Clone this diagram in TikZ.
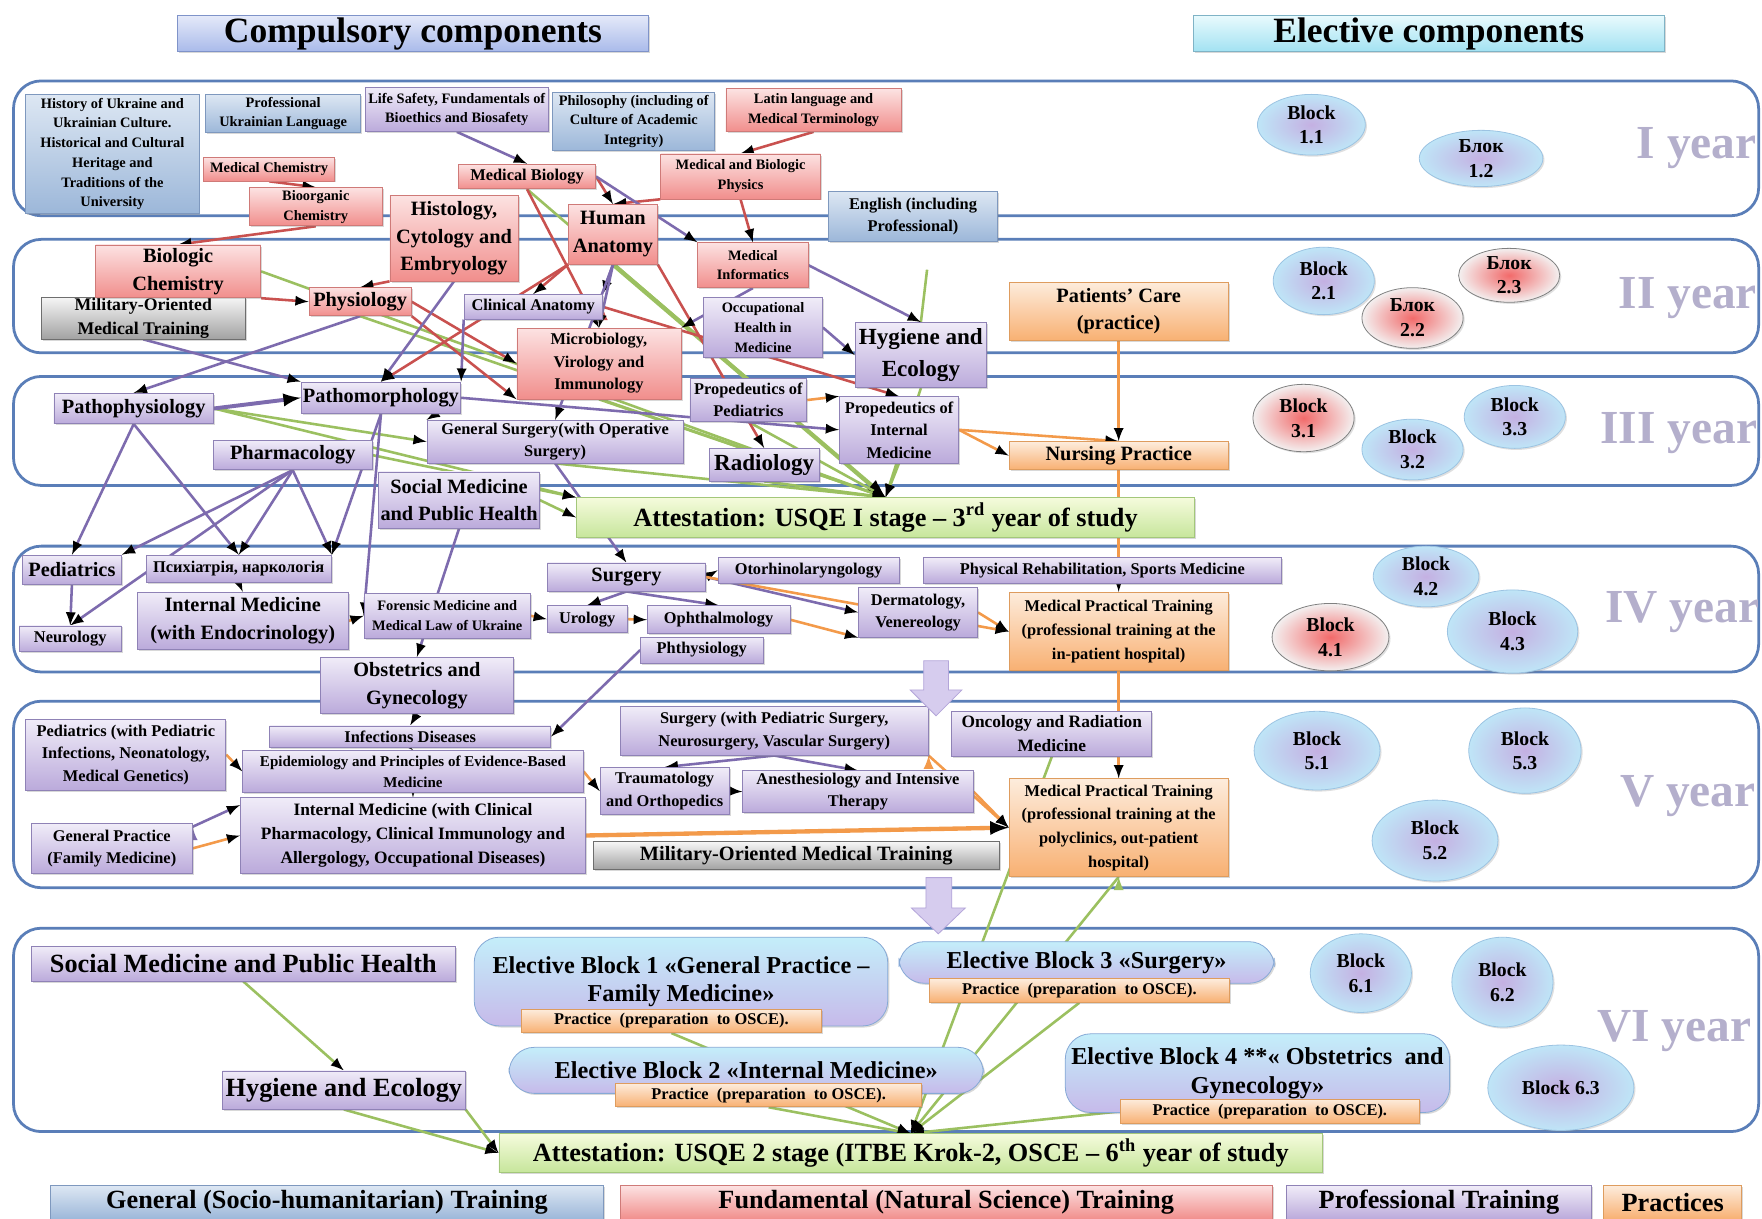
\documentclass[tikz,border=0pt]{standalone}
\usepackage{fontspec}
\setmainfont{Liberation Serif}
\usepackage{tikz}
\usetikzlibrary{positioning,calc,shadows,shapes.geometric}

\definecolor{genTop}{HTML}{DDE7F3}
\definecolor{genBot}{HTML}{9CB7D9}
\definecolor{genLine}{HTML}{7E98BE}
\definecolor{funTop}{HTML}{FCE2E2}
\definecolor{funBot}{HTML}{F18E8C}
\definecolor{funLine}{HTML}{CF7A78}
\definecolor{proTop}{HTML}{F0ECF8}
\definecolor{proBot}{HTML}{BBAADB}
\definecolor{proLine}{HTML}{8F82B6}
\definecolor{praTop}{HTML}{FDECDC}
\definecolor{praBot}{HTML}{F8B072}
\definecolor{praLine}{HTML}{DE9C5E}
\definecolor{milTop}{HTML}{F6F6F6}
\definecolor{milBot}{HTML}{A2A2A2}
\definecolor{milLine}{HTML}{6E6E6E}
\definecolor{attTop}{HTML}{F5FBDC}
\definecolor{attBot}{HTML}{C7E69C}
\definecolor{attLine}{HTML}{A3C77A}
\definecolor{eleTop}{HTML}{C4EEFA}
\definecolor{eleBot}{HTML}{C6BAEA}
\definecolor{eleLine}{HTML}{86A9D6}
\definecolor{hdcTop}{HTML}{E4E9F9}
\definecolor{hdcBot}{HTML}{A9BAEA}
\definecolor{hdcLine}{HTML}{7F93C9}
\definecolor{hdeTop}{HTML}{E8FAFD}
\definecolor{hdeBot}{HTML}{A2E2F2}
\definecolor{hdeLine}{HTML}{7FB3C6}
\definecolor{bandLine}{HTML}{5A7EB8}
\definecolor{yearGray}{HTML}{B4AFCC}
\definecolor{blkIn}{HTML}{C4B0E2}
\definecolor{blkOut}{HTML}{BFE5F7}
\definecolor{blkLine}{HTML}{9CC3E2}
\definecolor{redIn}{HTML}{F26A6A}
\definecolor{redOut}{HTML}{F3F0F0}
\definecolor{arrFill}{HTML}{D6CCEE}
\definecolor{arrLine}{HTML}{B3A5D9}
\definecolor{lnPur}{HTML}{7D6BAE}
\definecolor{lnRed}{HTML}{C9514F}
\definecolor{lnGrn}{HTML}{9BC060}
\definecolor{lnOra}{HTML}{F39A4A}

\pgfdeclarelayer{bands}
\pgfdeclarelayer{links}
\pgfsetlayers{bands,links,main}

\begin{document}
\begin{tikzpicture}[x=0.02cm, y=-0.02cm, wh/.style 2 args={minimum width=#1*0.02cm, minimum height=#2*0.02cm}, cbox/.style={draw=#1Line, top color=#1Top, bottom color=#1Bot, align=center, inner sep=0.5pt, text=black, drop shadow={shadow xshift=0.8pt, shadow yshift=-0.8pt, opacity=0.3}}, gen/.style={cbox=gen}, fund/.style={cbox=fun}, prof/.style={cbox=pro}, prac/.style={cbox=pra}, mil/.style={cbox=mil}, att/.style={cbox=att}, hdrC/.style={cbox=hdc}, hdrE/.style={cbox=hde}, elec/.style={cbox=ele, rounded corners=0.45cm}, fS/.style={font=\fontsize{7.3}{10}\selectfont\bfseries}, fM/.style={font=\fontsize{8.3}{11.4}\selectfont\bfseries}, fL/.style={font=\fontsize{10.3}{14}\selectfont\bfseries}, fX/.style={font=\fontsize{13.3}{16.5}\selectfont\bfseries}, fE/.style={font=\fontsize{12.3}{14.5}\selectfont\bfseries}, blkB/.style={ellipse, draw=blkLine, inner color=blkIn, outer color=blkOut, align=center, inner sep=0pt, font=\fontsize{10}{12.5}\selectfont\bfseries, drop shadow={shadow xshift=0.8pt, shadow yshift=-0.8pt, opacity=0.25}}, blkR/.style={blkB, draw=gray, inner color=redIn, outer color=redOut}, yr/.style={text=yearGray, font=\fontsize{24}{26}\selectfont\bfseries}, band/.style={draw=bandLine, line width=1.4pt, rounded corners=14pt}, pl/.style={draw=lnPur, line width=1.3pt, -latex}, rl/.style={draw=lnRed, line width=1.3pt, -latex}, gl/.style={draw=lnGrn, line width=1.3pt, -latex}, ol/.style={draw=lnOra, line width=1.3pt, -latex}]
\useasboundingbox (0,0) rectangle (1568,1084);

\node[hdrC, wh={419}{32}, font=\fontsize{18}{20}\selectfont\bfseries] (compul) at (367.5,30) {Compulsory components};
\node[hdrE, wh={419}{32}, font=\fontsize{18}{20}\selectfont\bfseries] (electc) at (1271.5,30) {Elective components};

% I year
\node[gen, fS, wh={154}{106}] (hist) at (100,137) {History of Ukraine and\\Ukrainian Culture.\\Historical and Cultural\\Heritage and\\Traditions of the\\University};
\node[gen, fS, wh={138}{34}] (profukr) at (252,101) {Professional\\Ukrainian Language};
\node[prof, fS, wh={163}{39}] (lifesaf) at (406.5,97.5) {Life Safety, Fundamentals of\\Bioethics and Biosafety};
\node[gen, fS, wh={144}{52}] (philos) at (564,108) {Philosophy (including of\\Culture of Academic\\Integrity)};
\node[fund, fS, wh={156}{38}] (latin) at (724,98) {Latin language and\\Medical Terminology};
\node[fund, fS, wh={117}{21}] (medchem) at (239.5,150.5) {Medical Chemistry};
\node[fund, fS, wh={118}{34}] (bioorg) at (281,184) {Bioorganic\\Chemistry};
\node[fund, fM, wh={122}{22}] (medbio) at (469,157) {Medical Biology};
\node[fund, fS, wh={142}{40}] (medphys) at (659,157) {Medical and Biologic\\Physics};
\node[gen, fM, wh={151}{45}] (english) at (812.5,192.5) {English (including\\Professional)};
\node[fund, fL, wh={114}{76}] (histol) at (404,212) {Histology,\\Cytology and\\Embryology};
\node[fund, fL, wh={79}{53}] (anatomy) at (545.5,208.5) {Human\\Anatomy};

% II year
\node[mil, fM, wh={181}{36}, font=\fontsize{9}{12}\selectfont\bfseries] (milit1) at (127.5,283) {Military-Oriented\\Medical Training};
\node[fund, fL, wh={147}{47}] (biochem) at (158.5,241.5) {Biologic\\Chemistry};
\node[fund, fL, wh={91}{25}] (physiol) at (320.5,268.5) {Physiology};
\node[prof, fM, wh={123}{22}] (clinanat) at (474.5,273) {Clinical Anatomy};
\node[fund, fS, wh={98}{40}] (medinf) at (670,236) {Medical\\Informatics};
\node[prof, fS, wh={106}{53}] (occup) at (679,291.5) {Occupational\\Health in\\Medicine};
\node[fund, fM, wh={146}{63}] (microbio) at (533,323.5) {Microbiology,\\Virology and\\Immunology};
\node[prof, wh={117}{58}, font=\fontsize{11.7}{16}\selectfont\bfseries] (hygiene) at (819.5,316) {Hygiene and\\Ecology};
\node[prac, fL, wh={195}{52}] (patients) at (995.5,277) {Patients’ Care\\(practice)};

% III year
\node[prof, fL, wh={142}{27}] (pathophys) at (119,363.5) {Pathophysiology};
\node[prof, fL, wh={142}{28}] (pathomorph) at (339,354) {Pathomorphology};
\node[prof, fL, wh={141}{26}] (pharma) at (260.5,405) {Pharmacology};
\node[prof, fM, wh={228}{38}] (gensurg) at (494,393) {General Surgery(with Operative\\Surgery)};
\node[prof, fM, wh={104}{38}] (propped) at (666,356) {Propedeutics of\\Pediatrics};
\node[prof, fM, wh={106}{59}] (propint) at (800,382.5) {Propedeutics of\\Internal\\Medicine};
\node[prof, wh={98}{29}, font=\fontsize{11.7}{14}\selectfont\bfseries] (radiol) at (680,413.5) {Radiology};
\node[prac, fL, wh={195}{25}] (nursing) at (995.5,405.5) {Nursing Practice};
\node[prof, fL, wh={143}{50}] (socmed) at (408.5,445) {Social Medicine\\and Public Health};
\node[att, fX, wh={550}{35}] (attest1) at (788,460.5) {Attestation: USQE I stage – 3\textsuperscript{rd} year of study};
\coordinate (gstub) at (825,240);

% IV year
\node[prof, fL, wh={88}{26}] (pediat) at (64,507) {Pediatrics};
\node[prof, fM, wh={165}{24}] (psych) at (212.5,506) {Психіатрія, наркологія};
\node[prof, fM, wh={91}{23}] (neurol) at (62.5,568.5) {Neurology};
\node[prof, fL, wh={188}{51}] (intmed) at (216,552.5) {Internal Medicine\\(with Endocrinology)};
\node[prof, fS, wh={148}{40}] (forens) at (398,548) {Forensic Medicine and\\Medical Law of Ukraine};
\node[prof, fL, wh={141}{25}] (surgery) at (557.5,513.5) {Surgery};
\node[prof, fM, wh={161}{23}] (ent) at (719.5,507.5) {Otorhinolaryngology};
\node[prof, fM, wh={318}{23}] (physreh) at (981,507.5) {Physical Rehabilitation, Sports Medicine};
\node[prof, fM, wh={71}{24}] (urol) at (522.5,551) {Urology};
\node[prof, fM, wh={127}{25}] (ophth) at (639.5,551.5) {Ophthalmology};
\node[prof, fM, wh={106}{44}] (derm) at (817,545) {Dermatology,\\Venereology};
\node[prof, fM, wh={109}{23}] (phthis) at (624.5,578.5) {Phthysiology};
\node[prac, fM, wh={195}{70}, font=\fontsize{8.3}{12}\selectfont\bfseries] (medpr1) at (995.5,562) {Medical Practical Training\\(professional training at the\\in-patient hospital)};
\node[prof, fL, wh={172}{50}] (obstet) at (371,610) {Obstetrics and\\Gynecology};

% V year
\node[prof, fM, wh={178}{63}] (pedsV) at (112,671.5) {Pediatrics (with Pediatric\\Infections, Neonatology,\\Medical Genetics)};
\node[prof, fM, wh={250}{19}] (infect) at (365,655.5) {Infections Diseases};
\node[prof, wh={303}{37}, font=\fontsize{7.6}{10.5}\selectfont\bfseries] (epid) at (367.5,686.5) {Epidemiology and Principles of Evidence-Based\\Medicine};
\node[prof, fM, wh={274}{43}] (surgV) at (689,650.5) {Surgery (with Pediatric Surgery,\\Neurosurgery, Vascular Surgery)};
\node[prof, wh={178}{40}, font=\fontsize{8.8}{12}\selectfont\bfseries] (oncol) at (936,653) {Oncology and Radiation\\Medicine};
\node[prof, fM, wh={115}{42}] (trauma) at (591.5,704) {Traumatology\\and Orthopedics};
\node[prof, fM, wh={205}{37}] (anest) at (763.5,704.5) {Anesthesiology and Intensive\\Therapy};
\node[prof, fM, wh={143}{44}] (genpr) at (99.5,755) {General Practice\\(Family Medicine)};
\node[prof, wh={307}{67}, font=\fontsize{8.8}{12}\selectfont\bfseries] (intmedV) at (367.5,743.5) {Internal Medicine (with Clinical\\Pharmacology, Clinical Immunology and\\Allergology, Occupational Diseases)};
\node[mil, fL, wh={361}{25}] (milit2) at (708.5,761.5) {Military-Oriented Medical Training};
\node[prac, wh={195}{87}, font=\fontsize{8.3}{12}\selectfont\bfseries] (medpr2) at (995.5,736.5) {Medical Practical Training\\(professional training at the\\polyclinics, out-patient\\hospital)};

% VI year
\node[prof, fX, wh={377}{31}] (socmedVI) at (216.5,857.5) {Social Medicine and Public Health};
\node[prof, fX, wh={216}{34}] (hygVI) at (306,970) {Hygiene and Ecology};
\node[elec, fE, wh={368}{79}] (el1) at (606,873.5) {Elective Block 1 «General Practice –\\Family Medicine»};
\node[prac, fM, wh={267}{21}] (pr1) at (597.5,908.5) {Practice \ (preparation \ to OSCE).};
\node[elec, fE, wh={422}{41}] (el2) at (664,952.5) {Elective Block 2 «Internal Medicine»};
\node[prac, fM, wh={272}{21}] (pr2) at (684,974.5) {Practice \ (preparation \ to OSCE).};
\node[elec, fE, wh={334}{37}] (el3) at (967,856.5) {Elective Block 3 «Surgery»};
\node[prac, fM, wh={267}{21}] (pr3) at (960.5,881.5) {Practice \ (preparation \ to OSCE).};
\node[elec, fE, wh={342}{70}] (el4) at (1119,955) {Elective Block 4 **« Obstetrics \ and\\Gynecology»};
\node[prac, fM, wh={266}{22}] (pr4) at (1130,989) {Practice \ (preparation \ to OSCE).};
\node[att, fX, wh={733}{34}] (attest2) at (810.5,1026) {Attestation: USQE 2 stage (ITBE Krok-2, OSCE – 6\textsuperscript{th} year of study};

% elective blocks
\node[blkB, wh={96}{54}] (b11) at (1167,111) {Block\\1.1};
\node[blkB, wh={110}{50}] (b12) at (1318,141) {Блок\\1.2};
\node[blkB, wh={90}{60}] (b21) at (1178,250) {Block\\2.1};
\node[blkR, wh={90}{54}] (b22) at (1257,283) {Блок\\2.2};
\node[blkR, wh={90}{48}] (b23) at (1343,245) {Блок\\2.3};
\node[blkR, wh={90}{60}] (b31) at (1160,372) {Block\\3.1};
\node[blkB, wh={90}{54}] (b32) at (1257,400) {Block\\3.2};
\node[blkB, wh={90}{56}] (b33) at (1348,371) {Block\\3.3};
\node[blkB, wh={94}{54}] (b42) at (1269,513) {Block\\4.2};
\node[blkR, wh={104}{60}] (b41) at (1184,567) {Block\\4.1};
\node[blkB, wh={116}{74}] (b43) at (1346,562) {Block\\4.3};
\node[blkB, wh={112}{70}] (b51) at (1172,668) {Block\\5.1};
\node[blkB, wh={100}{76}] (b53) at (1357,668) {Block\\5.3};
\node[blkB, wh={112}{72}] (b52) at (1277,748) {Block\\5.2};
\node[blkB, wh={90}{70}] (b61) at (1211,866) {Block\\6.1};
\node[blkB, wh={90}{80}] (b62) at (1337,874) {Block\\6.2};
\node[blkB, wh={130}{76}] (b63) at (1389,968) {Block 6.3};

\node[yr] (y1) at (1510,132) {I year};
\node[yr] (y2) at (1502,265) {II year};
\node[yr] (y3) at (1494,385) {III year};
\node[yr] (y4) at (1497,545) {IV year};
\node[yr] (y5) at (1502,708) {V year};
\node[yr] (y6) at (1490,918) {VI year};

% legend
\node[gen, fX, wh={492}{30}] (lgGen) at (291,1070) {General (Socio-humanitarian) Training};
\node[fund, fX, wh={580}{30}] (lgFund) at (842,1070) {Fundamental (Natural Science) Training};
\node[prof, fX, wh={271}{30}] (lgProf) at (1280.5,1070) {Professional Training};
\node[prac, fX, wh={123}{30}] (lgPrac) at (1488.5,1070) {Practices};

\begin{pgfonlayer}{bands}
\fill[white] (0,0) rectangle (1568,1084);
\draw[band] (12,72) rectangle (1565,192);
\draw[band] (12,213) rectangle (1565,314);
\draw[band] (12,335) rectangle (1565,432);
\draw[band] (12,486) rectangle (1565,598);
\draw[band] (12,624) rectangle (1565,790);
\draw[band] (12,826) rectangle (1565,1007);
\end{pgfonlayer}

\begin{pgfonlayer}{links}
\path[gl] (biochem.east) edge (attest1.north)
(physiol.south) edge (attest1.north)
(medbio.south) edge (attest1.north)
(anatomy.south) edge[line width=2.2pt] (attest1.north)
(pathophys.east) edge (gensurg.west)
(pathophys.east) edge (attest1.north west)
(pharma.east) edge (attest1.north west)
(gensurg.south) edge (attest1.north)
(microbio.south) edge (attest1.north)
(propped.south) edge (attest1.north)
(propint.south) edge (attest1.north)
(radiol.south) edge (attest1.north)
(hygiene.south) edge (attest1.north)
(gstub) edge[-] (hygiene.north)
(socmed.east) edge (attest1.west)
(socmedVI.south) edge (hygVI.north)
(hygVI.south) edge (attest2.west)
(hygVI.south east) edge (attest2.west)
(pr1.south) edge (attest2.north)
(pr2.south) edge (attest2.north)
(pr3.south) edge (attest2.north)
(pr4.west) edge (attest2.north)
(oncol.south) edge (attest2.north)
(medpr2.south) edge (attest2.north);

\path[rl] (medchem.south) edge (bioorg.north)
(bioorg.south) edge (biochem.north)
(latin.south) edge (medphys.north)
(medphys.south west) edge (anatomy.north)
(medphys.south) edge (medinf.north)
(medbio.east) edge (anatomy.north)
(medbio.south) edge (microbio.north)
(histol.south west) edge (physiol.north)
(biochem.south east) edge (physiol.west)
(physiol.east) edge (microbio.west)
(physiol.south east) edge (microbio.south west)
(anatomy.south west) edge (clinanat.north)
(anatomy.south west) edge (pathomorph.north)
(anatomy.south east) edge (radiol.north)
(clinanat.east) edge (propint.north);

\path[pl] (lifesaf.south) edge (medbio.north)
(medbio.east) edge (medinf.north west)
(medinf.east) edge (hygiene.north)
(medinf.south) edge (microbio.north east)
(occup.east) edge (hygiene.west)
(anatomy.south) edge (clinanat.north east)
(anatomy.south) edge (microbio.north)
(anatomy.south) edge (gensurg.north)
(histol.south) edge (pathomorph.north)
(clinanat.south west) edge (pathomorph.north east)
(physiol.south) edge (pathophys.north)
(milit1.south) edge (pathomorph.north west)
(pathophys.east) edge[line width=2pt] (pathomorph.west)
(pathomorph.east) edge (propint.west)
(pathomorph.east) edge (gensurg.north west)
(pathophys.south) edge (pediat.north)
(pathophys.south) edge (psych.north)
(pharma.south) edge (pediat.north east)
(pharma.south) edge (neurol.north)
(pharma.south) edge (psych.north)
(pharma.south) edge (psych.north east)
(pathomorph.south) edge (psych.north east)
(pathomorph.south) edge (forens.west)
(psych.south) edge (intmed.north)
(pediat.south) edge (neurol.north)
(socmed.south) edge (obstet.north)
(gensurg.south) edge (surgery.north)
(surgery.south) edge (urol.north)
(surgery.south) edge (ophth.north)
(surgery.east) edge (ent.west)
(surgery.east) edge (derm.west)
(phthis.west) edge (infect.east)
(obstet.south) edge (infect.north)
(infect.south) edge (epid.north)
(epid.south) edge (intmedV.north)
(surgV.south) edge (trauma.north)
(surgV.south) edge (anest.north)
(genpr.15) edge (intmedV.170);

\path[ol] (patients.south) edge (nursing.north)
(nursing.south) edge (medpr1.north)
(medpr1.south) edge (medpr2.north)
(propint.east) edge (nursing.north)
(propint.east) edge (nursing.west)
(propped.east) edge (propint.north west)
(intmed.east) edge (forens.west)
(forens.east) edge (urol.west)
(urol.east) edge (ophth.west)
(ophth.east) edge (derm.south west)
(derm.east) edge (medpr1.west)
(surgery.east) edge (medpr1.west)
(pedsV.east) edge (epid.west)
(epid.east) edge (trauma.west)
(trauma.east) edge (anest.west)
(anest.east) edge (medpr2.west)
(intmedV.east) edge[line width=2.2pt] (medpr2.west)
(genpr.east) edge (intmedV.west)
(surgV.south east) edge (medpr2.west);
\end{pgfonlayer}

\filldraw[fill=arrFill, draw=arrLine] (822,588) -- (844,588) -- (844,614) -- (856,614) -- (833,637) -- (810,614) -- (822,614) -- cycle;
\filldraw[fill=arrFill, draw=arrLine] (824,781) -- (847,781) -- (847,808) -- (859,808) -- (835,831) -- (811,808) -- (824,808) -- cycle;
\end{tikzpicture}
\end{document}
